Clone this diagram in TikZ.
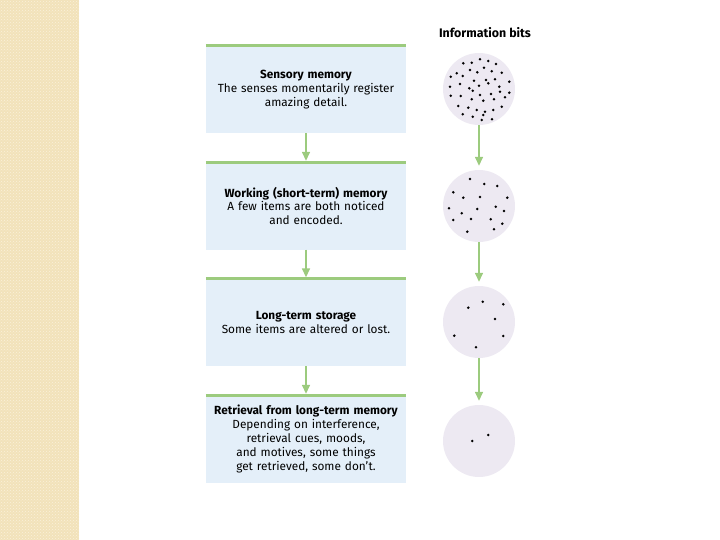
\documentclass[tikz,border=0pt]{standalone}
\usepackage{fontspec}
\setmainfont{Fira Sans}
\usetikzlibrary{arrows.meta, positioning, patterns}
\definecolor{stripbeige}{RGB}{242,226,186}
\definecolor{stripcream}{RGB}{250,241,218}
\definecolor{boxblue}{RGB}{228,239,249}
\definecolor{flowgreen}{RGB}{156,203,126}
\definecolor{bitlilac}{RGB}{237,233,242}
\tikzset{
  stagebox/.style={rectangle, fill=boxblue, minimum width=200pt, minimum height=87pt, text width=198pt, align=center, inner sep=0pt, font=\fontsize{11.8}{13.8}\selectfont},
  bitcircle/.style={circle, fill=bitlilac, minimum size=72pt, inner sep=0pt},
  flowarrow/.style={-{Triangle[length=9pt,width=8pt]}, line width=1.5pt, flowgreen},
  bitdot/.style={fill=black},
}

\begin{document}
\begin{tikzpicture}[x=1pt,y=1pt]
\useasboundingbox (0,0) rectangle (720,-540);
\fill[stripbeige] (0,0) rectangle (79,-540);
\fill[pattern=crosshatch dots, pattern color=stripcream] (0,0) rectangle (79,-540);
% memory stages
\node[stagebox] (s1) at (306,-89.5) {\textbf{Sensory memory}\\The senses momentarily register\\amazing detail.};
\node[stagebox] (s2) at (306,-206) {\textbf{Working (short-term) memory}\\A few items are both noticed\\and encoded.};
\node[stagebox] (s3) at (306,-322.5) {\textbf{Long-term storage}\\Some items are altered or lost.};
\node[stagebox] (s4) at (306,-439) {\textbf{Retrieval from long-term memory}\\Depending on interference,\\retrieval cues, moods,\\and motives, some things\\get retrieved, some don't.};
\foreach \s in {s1,s2,s3,s4}
  \draw[flowgreen, line width=3pt] (\s.north west) -- (\s.north east);
\draw[flowarrow, shorten >=1.5pt] (s1) -- (s2);
\draw[flowarrow, shorten >=1.5pt] (s2) -- (s3);
\draw[flowarrow, shorten >=1.5pt] (s3) -- (s4);
% information bits
\node[font=\bfseries\fontsize{12.4}{14}\selectfont] (bits) at (485,-33) {Information bits};
\node[bitcircle] (b1) at (479,-89) {};
\node[bitcircle] (b2) at (479,-206) {};
\node[bitcircle] (b3) at (479,-322) {};
\node[bitcircle] (b4) at (479,-441) {};
\draw[flowarrow, shorten >=4pt] (b1) -- (b2);
\draw[flowarrow, shorten >=4pt] (b2) -- (b3);
\draw[flowarrow, shorten >=4pt] (b3) -- (b4);
\foreach \dx/\dy in {1/29.7, 9.3/28, -15.7/25.7, -7.3/26.3, 17/25, 5/21.3, -9/19, -1.7/16.7, 12.7/17.7, 22.7/16.3,
    -22.3/15.7, -28.3/12.3, -16.3/13, -5/8.3, 7/9, 16/9.7, 30.3/7.3, -29/2.3, -19/5, -9.7/0.7, 0/3.3, 9.3/5.7,
    20.3/2.3, -28.3/-6.7, -18.3/-7, -6.3/-1.7, 1/-6, 12/-5, 21/-2.7, 30.3/-3.7, -7.3/-10.3, 4.3/-11.7, 15/-10.3,
    26/-8.3, -20.7/-17, -10.7/-18.7, -2.3/-21, 6/-22.7, 14.3/-21, 22.7/-17.7, -16.3/-25.3, -6.3/-27.7, 4.3/-26,
    13/-30.3, 2.7/-31}
  \fill[bitdot] ([shift={(\dx,\dy)}]b1.center) circle[radius=1.4];
\foreach \dx/\dy in {-9/27, 5.3/22, 18.3/20, -25.7/13.7, -15.7/8.3, 1/9, 28.3/8.3, -30/-2.3, 16.7/-0.7,
    -17.3/-7.3, -1.7/-3, 25/-5, -25.7/-14, -8/-13, 11.7/-13.3, 23.3/-17.7, 15/-23.3, -11.7/-25.7}
  \fill[bitdot] ([shift={(\dx,\dy)}]b2.center) circle[radius=1.4];
\foreach \dx/\dy in {3.7/20.3, 24.3/17.7, -10.7/14.3, 16/3, -24.7/-13.7, 24.3/-14, -3/-25.3}
  \fill[bitdot] ([shift={(\dx,\dy)}]b3.center) circle[radius=1.4];
\foreach \dx/\dy in {-6.7/0, 9.3/6}
  \fill[bitdot] ([shift={(\dx,\dy)}]b4.center) circle[radius=1.4];
\end{tikzpicture}
\end{document}
